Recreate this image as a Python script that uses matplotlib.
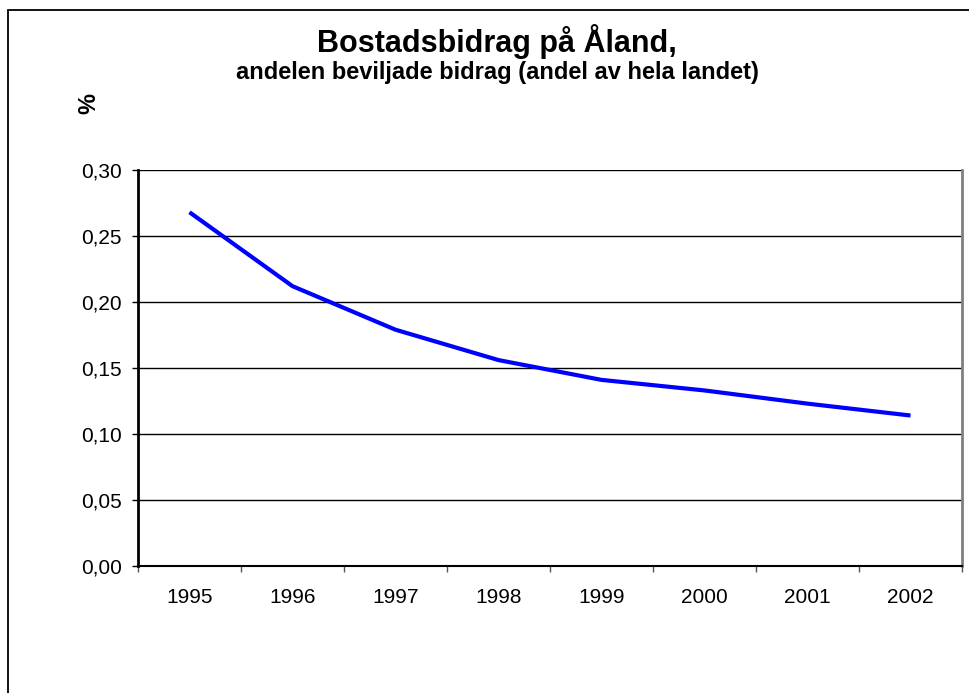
import matplotlib.pyplot as plt
from matplotlib.patches import Rectangle

plt.rcParams['font.family'] = ['Liberation Sans', 'DejaVu Sans']

years = ['1995', '1996', '1997', '1998', '1999', '2000', '2001', '2002']
share = [0.268, 0.212, 0.179, 0.156, 0.141, 0.133, 0.123, 0.114]
y_ticks = [0.00, 0.05, 0.10, 0.15, 0.20, 0.25, 0.30]

W, H = 969, 693
fig = plt.figure(figsize=(W / 100, H / 100), dpi=100)

# outer chart frame (runs off the right and bottom edges)
fig.patches.append(Rectangle((8 / W, -0.05), 1.1, 1 - 10 / H + 0.05,
                             transform=fig.transFigure, fill=False,
                             edgecolor='black', linewidth=1.3))

# plot area in pixels: left 138, right 962, top 170, bottom 566
ax = fig.add_axes([138 / W, 1 - 566 / H, (962 - 138) / W, (566 - 170) / H])

x = [i + 0.5 for i in range(len(years))]
ax.plot(x, share, color='#0000ff', linewidth=3, solid_capstyle='butt')

ax.set_xlim(0, len(years))
ax.set_ylim(0, 0.30)
ax.set_yticks(y_ticks)
ax.set_yticklabels([f'{v:.2f}'.replace('.', ',') for v in y_ticks], fontsize=15)
ax.tick_params(axis='y', length=4.5, width=1, pad=7, direction='out')

ax.set_xticks(range(len(years) + 1))
ax.set_xticklabels([])
ax.set_xticks(x, minor=True)
ax.set_xticklabels(years, minor=True, fontsize=15)
ax.tick_params(axis='x', which='major', length=4.5, width=1, color='#555555')
ax.tick_params(axis='x', which='minor', length=0, pad=16)

ax.grid(axis='y', color='black', linewidth=1)
ax.set_axisbelow(True)

ax.spines['left'].set_linewidth(2)
ax.spines['bottom'].set_linewidth(1.5)
ax.spines['top'].set_visible(False)
ax.spines['right'].set_color('#808080')
ax.spines['right'].set_linewidth(2)

fig.text(497 / W, 1 - 42 / H, 'Bostadsbidrag på Åland,', ha='center', va='center',
         fontsize=22, fontweight='bold')
fig.text(497 / W, 1 - 72 / H, 'andelen beviljade bidrag (andel av hela landet)',
         ha='center', va='center', fontsize=17, fontweight='bold')
fig.text(89 / W, 1 - 103 / H, '%', ha='center', va='center', rotation=90,
         fontsize=17, fontweight='bold')

fig.savefig('out.png', dpi=100)
